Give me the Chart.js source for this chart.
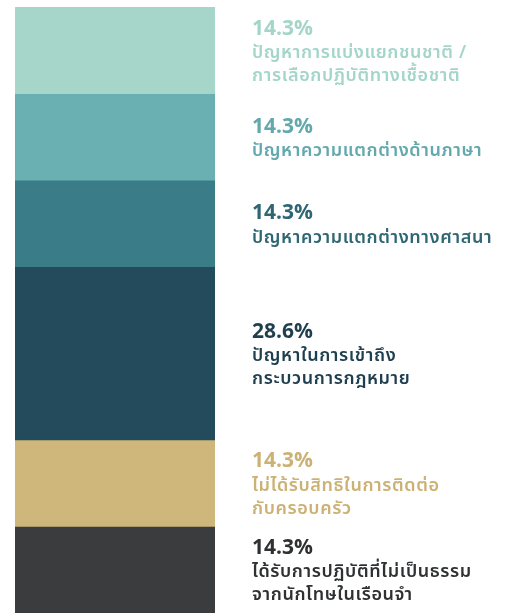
<!DOCTYPE html>
<html>
<head>
<meta charset="utf-8">
<script src="https://cdn.jsdelivr.net/npm/chart.js@4"></script>
<style>
  html, body { margin: 0; padding: 0; background: #ffffff; }
  #wrap { width: 512px; height: 613px; }
</style>
</head>
<body>
<div id="wrap"><canvas id="myChart"></canvas></div>
<script>
// ข้อมูลแผนภูมิ (บนลงล่าง)
let categories = [""];
let percents = [14.3, 14.3, 14.3, 28.6, 14.3, 14.3];
let labelLines = [
    ["ปัญหาการแบ่งแยกชนชาติ /", "การเลือกปฏิบัติทางเชื้อชาติ"],
    ["ปัญหาความแตกต่างด้านภาษา"],
    ["ปัญหาความแตกต่างทางศาสนา"],
    ["ปัญหาในการเข้าถึง", "กระบวนการกฎหมาย"],
    ["ไม่ได้รับสิทธิในการติดต่อ", "กับครอบครัว"],
    ["ได้รับการปฏิบัติที่ไม่เป็นธรรม", "จากนักโทษในเรือนจำ"]
];
let barColors = ["#a6d6ca", "#6aafb2", "#3a7d88", "#234b5b", "#cfb77b", "#3a3c3e"];
let textColors = ["#a3d5c9", "#62a8ad", "#2f6673", "#1f3f4e", "#cbb274", "#2e3032"];

let ctx = document.getElementById("myChart");
let total = percents.reduce((a, b) => a + b, 0);

// ปลั๊กอินสำหรับเขียนข้อความทางขวาของแท่ง
const sideLabels = {
    id: "sideLabels",
    afterDatasetsDraw(chart) {
        const c = chart.ctx;
        c.save();
        c.textBaseline = "middle";
        c.textAlign = "left";
        chart.data.datasets.forEach((ds, i) => {
            const bar = chart.getDatasetMeta(i).data[0];
            const mid = (bar.y + bar.base) / 2 + 3;
            const lines = labelLines[i];
            const blockH = 24 + lines.length * 23;
            let y = mid - blockH / 2 + 12;
            const x = bar.x + bar.width / 2 + 37;
            c.fillStyle = textColors[i];
            c.letterSpacing = "0px";
            c.font = "bold 21px 'Noto Sans Thai', 'Noto Sans', sans-serif";
            c.fillText(percents[i].toFixed(1) + "%", x, y);
            y += 24;
            c.letterSpacing = "0.6px";
            c.font = "600 18px 'Noto Sans Thai', 'Noto Sans', sans-serif";
            lines.forEach((t) => {
                c.fillText(t, x, y);
                y += 23;
            });
        });
        c.restore();
    }
};

new Chart(ctx, {
    type: "bar",
    data: {
        labels: categories,
        datasets: percents.map((v, i) => ({
            label: labelLines[i].join(" "),
            data: [v],
            backgroundColor: barColors[i],
            borderWidth: 0,
            barPercentage: 1,
            categoryPercentage: 1
        }))
    },
    options: {
        responsive: true,
        maintainAspectRatio: false,
        animation: false,
        layout: { padding: { left: 15, top: 7, right: 297, bottom: 0 } },
        plugins: {
            legend: { display: false },
            tooltip: { enabled: false }
        },
        scales: {
            x: { stacked: true, display: false },
            y: { stacked: true, display: false, reverse: true, min: 0, max: total }
        }
    },
    plugins: [sideLabels]
});
</script>
</body>
</html>
